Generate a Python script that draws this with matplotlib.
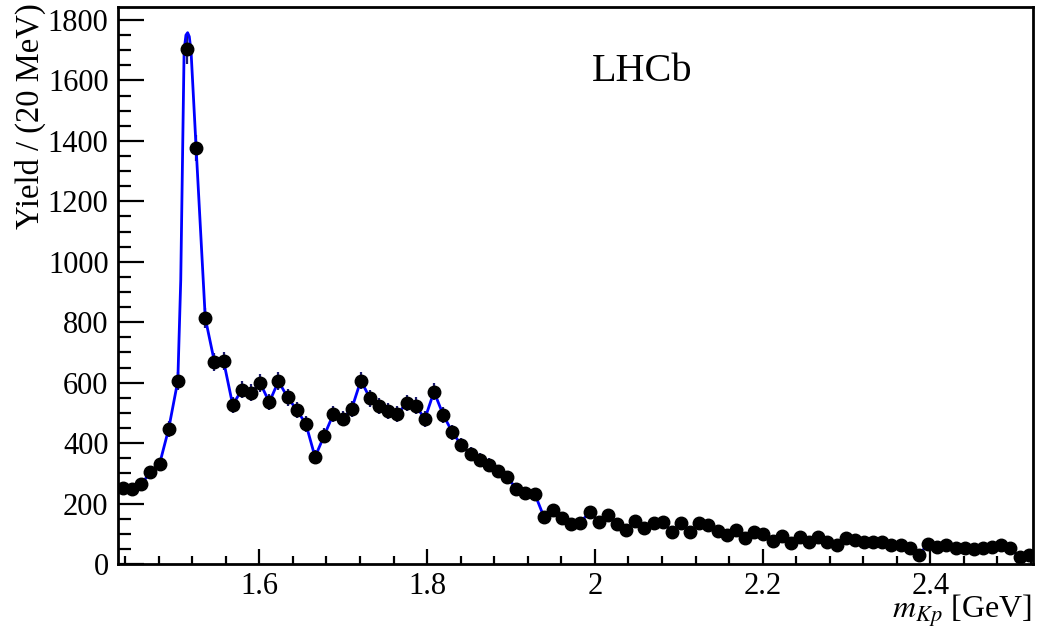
import numpy as np
import matplotlib
matplotlib.use("Agg")
import matplotlib.pyplot as plt
from matplotlib.ticker import MultipleLocator, FormatStrFormatter

# Times-like look of the ROOT/LHCb style
plt.rcParams['font.family'] = ['Liberation Serif', 'DejaVu Serif']
plt.rcParams['mathtext.fontset'] = 'stix'

# m(Kp) range: m_K + m_p up to m_Lb - m_Jpsi, 100 bins
m_lo = 1.4319
m_hi = 2.5227
n_bins = 100

# yields, one per bin
yields = [250, 247, 263, 304, 330, 447, 606, 1703, 1377, 814,
          669, 672, 526, 577, 566, 599, 535, 605, 551, 510,
          463, 354, 425, 496, 481, 513, 607, 549, 523, 506,
          496, 532, 524, 480, 570, 494, 436, 393, 363, 344,
          328, 307, 287, 249, 235, 233, 157, 178, 152, 132,
          137, 172, 140, 161, 133, 111, 141, 119, 135, 139,
          107, 135, 107, 134, 128, 110, 96, 114, 86, 106,
          98, 77, 92, 69, 89, 72, 89, 74, 63, 85,
          78, 74, 73, 73, 63, 62, 52, 31, 65, 56,
          62, 52, 52, 49, 52, 56, 62, 52, 22, 30]

errors = [18, 18, 19, 21, 22, 26, 30, 50, 42, 32,
          30, 30, 27, 28, 28, 29, 27, 29, 28, 27,
          26, 23, 25, 26, 26, 27, 29, 28, 27, 27,
          26, 27, 27, 26, 28, 26, 25, 24, 23, 22,
          22, 21, 21, 20, 19, 19, 15, 16, 15, 14,
          14, 16, 14, 15, 14, 13, 14, 13, 14, 14,
          13, 14, 13, 14, 13, 13, 12, 13, 12, 12,
          12, 11, 12, 11, 12, 11, 12, 11, 10, 11,
          11, 11, 11, 11, 10, 10, 9, 8, 10, 9,
          10, 9, 9, 9, 9, 9, 10, 9, 7, 8]

# fit curve near the Lambda(1520) peak
peak_x = [1.5063, 1.5103, 1.5125, 1.5145, 1.5165, 1.5186]
peak_y = [940, 1700, 1750, 1758, 1745, 1695]

edges = np.linspace(m_lo, m_hi, n_bins + 1)
centers = 0.5 * (edges[:-1] + edges[1:])
yields = np.array(yields)
errors = np.array(errors)

# curve follows the points, with the peak shape put in between bins 6 and 8
curve_x = np.concatenate([centers[:7], peak_x, centers[8:]])
curve_y = np.concatenate([yields[:7], peak_y, yields[8:]])

fig = plt.figure(figsize=(10.39, 6.30), dpi=100)
ax = fig.add_axes([0.1139, 0.1048, 0.8806, 0.8841])

ax.errorbar(centers, yields, yerr=errors, fmt='none', ecolor='#1a1a70',
            elinewidth=1.6, capsize=0, zorder=2)
ax.plot(curve_x, curve_y, color='#0000ff', lw=2.0, zorder=3)
ax.plot(centers, yields, 'o', color='black', markersize=9, zorder=4)

ax.set_xlim(m_lo, m_hi)
ax.set_ylim(0, 1843)

ax.xaxis.set_major_locator(MultipleLocator(0.2))
ax.xaxis.set_minor_locator(MultipleLocator(0.04))
ax.xaxis.set_major_formatter(FormatStrFormatter('%g'))
ax.yaxis.set_major_locator(MultipleLocator(200))
ax.yaxis.set_minor_locator(MultipleLocator(50))

ax.tick_params(axis='both', which='both', direction='in', top=False, right=False,
               labelsize=22, width=1.6, color='black')
ax.tick_params(axis='x', which='major', length=11, pad=6)
ax.tick_params(axis='x', which='minor', length=5.5)
ax.tick_params(axis='y', which='major', length=19, pad=7)
ax.tick_params(axis='y', which='minor', length=9.5)

for s in ax.spines.values():
    s.set_linewidth(2.0)

ax.text(0.518, 0.885, 'LHCb', transform=ax.transAxes, fontsize=29,
        ha='left', va='center')

fig.text(0.029, 0.995, 'Yield / (20 MeV)', rotation=90, fontsize=23.5,
         ha='center', va='top')
fig.text(0.993, 0.02, r'$m_{Kp}$ [GeV]', fontsize=23, ha='right', va='baseline')

fig.savefig('out.png', dpi=100)
